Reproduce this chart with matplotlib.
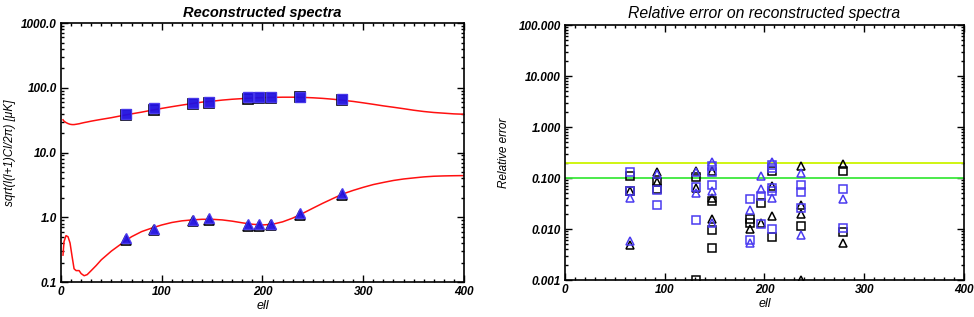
import matplotlib
matplotlib.use("Agg")
import matplotlib.pyplot as plt
from matplotlib.ticker import FixedLocator, MultipleLocator, LogLocator, NullFormatter

plt.rcParams['font.family'] = ['Liberation Sans', 'DejaVu Sans']

# multipole positions of the bins
ell = [65, 92, 131, 147, 186, 197, 208, 237, 279]

# reconstructed spectra, upper (squares) and lower (triangles) series
sq_black = [38, 46, 57, 59, 68, 69, 70, 71, 65]
sq_blue = [40, 48, 59, 61, 71, 71, 73, 73, 67]
tri_black = [0.45, 0.64, 0.87, 0.90, 0.74, 0.74, 0.75, 1.08, 2.2]
tri_blue = [0.48, 0.67, 0.92, 0.96, 0.78, 0.78, 0.80, 1.16, 2.35]

# model curves
model_ell = [2, 3, 5, 7, 9, 11, 13, 15, 18, 20, 23, 26, 30, 35, 40, 50, 60, 70, 80, 90,
             100, 110, 120, 130, 140, 150, 160, 170, 180, 190, 200, 210, 220, 230, 240,
             250, 260, 270, 280, 290, 300, 310, 320, 330, 340, 350, 360, 370, 380, 390, 400]
model_upper = [32, 30.5, 29, 28, 27.3, 27, 27, 27.3, 27.8, 28.3, 29, 29.6, 30.5, 31.5, 32.5,
               34.5, 37, 39.5, 42, 45, 48, 51, 54, 57, 60, 62, 64.5, 66.5, 68, 69.5, 70.5,
               71, 71.5, 71.5, 71, 70, 68.5, 66.5, 64, 61.5, 58.5, 55.5, 52.5, 50, 47.5, 45,
               43, 41.5, 40.5, 39.5, 39]
model_lower = [0.26, 0.42, 0.52, 0.5, 0.4, 0.25, 0.16, 0.15, 0.15, 0.135, 0.125, 0.13, 0.15,
               0.18, 0.22, 0.30, 0.39, 0.5, 0.6, 0.68, 0.76, 0.83, 0.88, 0.91, 0.93, 0.93,
               0.91, 0.87, 0.82, 0.78, 0.76, 0.78, 0.85, 0.97, 1.15, 1.38, 1.65, 1.95, 2.3,
               2.6, 2.9, 3.2, 3.45, 3.7, 3.9, 4.05, 4.2, 4.3, 4.35, 4.38, 4.4]

# relative errors (ell, value) per marker/colour
err_sq_black = [(65, 0.11), (65, 0.055), (92, 0.085), (92, 0.06), (131, 0.107), (131, 0.001),
                (147, 0.036), (147, 0.0094), (147, 0.0043), (186, 0.0157), (186, 0.013),
                (197, 0.032), (208, 0.135), (208, 0.0069), (237, 0.0113), (279, 0.135),
                (279, 0.0088)]
err_sq_blue = [(65, 0.13), (65, 0.055), (92, 0.057), (92, 0.030), (131, 0.066), (131, 0.015),
               (147, 0.17), (147, 0.13), (147, 0.074), (186, 0.038), (186, 0.0062),
               (197, 0.044), (197, 0.0125), (208, 0.18), (208, 0.16), (208, 0.065),
               (208, 0.055), (208, 0.010), (237, 0.074), (237, 0.054), (237, 0.026),
               (279, 0.062), (279, 0.0105)]
err_tri_black = [(65, 0.055), (65, 0.0048), (92, 0.13), (92, 0.085), (131, 0.135), (131, 0.065),
                 (147, 0.135), (147, 0.041), (147, 0.0157), (186, 0.010), (197, 0.0129),
                 (208, 0.069), (208, 0.018), (237, 0.17), (237, 0.030), (237, 0.020),
                 (237, 0.001), (279, 0.19), (279, 0.0052)]
err_tri_blue = [(65, 0.04), (65, 0.0058), (92, 0.12), (131, 0.13), (131, 0.051), (147, 0.21),
                (147, 0.055), (147, 0.0129), (186, 0.024), (186, 0.0052), (197, 0.11),
                (197, 0.062), (208, 0.21), (208, 0.041), (237, 0.125), (237, 0.0078),
                (279, 0.038)]

red = '#ff1010'
blue = '#2010e0'
lblue = '#4a3af0'
fs = 8.5

fig = plt.figure(figsize=(9.74, 3.17), dpi=100)


def style_axes(ax, ylabels):
    ax.set_xlim(0, 400)
    ax.set_yscale('log')
    ax.xaxis.set_major_locator(MultipleLocator(100))
    ax.xaxis.set_minor_locator(MultipleLocator(10))
    ax.yaxis.set_major_locator(FixedLocator([float(v) for v in ylabels]))
    ax.yaxis.set_minor_locator(LogLocator(base=10, subs=range(2, 10)))
    ax.yaxis.set_minor_formatter(NullFormatter())
    ax.set_yticklabels(ylabels)
    ax.tick_params(which='both', direction='in', top=True, right=True,
                   labelsize=fs, width=1, pad=3)
    ax.tick_params(which='major', length=5)
    ax.tick_params(which='minor', length=2.5)
    for lab in ax.get_xticklabels() + ax.get_yticklabels():
        lab.set_fontstyle('italic')
        lab.set_fontweight('bold')
    for s in ax.spines.values():
        s.set_linewidth(1.2)
    ax.set_xlabel('ell', fontsize=fs + 0.5, style='italic', labelpad=1)


# left panel
ax = fig.add_axes([0.0626, 0.1104, 0.4138, 0.817])
ax.plot(model_ell, model_upper, color=red, lw=1.1)
ax.plot(model_ell, model_lower, color=red, lw=1.1)
ax.plot(ell, sq_black, 's', mfc='none', mec='black', ms=6.5, mew=1.2)
ax.plot(ell, sq_blue, 's', mfc=blue, mec=lblue, ms=6.5, mew=1.0, alpha=0.95)
ax.plot(ell, tri_black, '^', mfc='none', mec='black', ms=6.5, mew=1.2)
ax.plot(ell, tri_blue, '^', mfc=blue, mec=lblue, ms=6.5, mew=1.0, alpha=0.95)
ax.set_ylim(0.1, 1000)
style_axes(ax, ['0.1', '1.0', '10.0', '100.0', '1000.0'])
ax.set_ylabel('sqrt(l(l+1)Cl/2\u03c0) [\u03bcK]', fontsize=fs, style='italic', labelpad=4)
ax.set_title('Reconstructed spectra', fontsize=10.5, style='italic', fontweight='bold', pad=4)

# right panel
ax2 = fig.add_axes([0.580, 0.1167, 0.4097, 0.8044])
ax2.axhline(0.2, color='#ccf500', lw=1.3)
ax2.axhline(0.1, color='#3de83d', lw=1.3)
for pts, mk, col in [(err_sq_black, 's', 'black'), (err_tri_black, '^', 'black'),
                     (err_sq_blue, 's', lblue), (err_tri_blue, '^', lblue)]:
    ax2.plot([p[0] for p in pts], [p[1] for p in pts], mk, mfc='none', mec=col,
             ms=6, mew=1.1, clip_on=True)
ax2.set_ylim(0.001, 100)
style_axes(ax2, ['0.001', '0.010', '0.100', '1.000', '10.000', '100.000'])
ax2.set_ylabel('Relative error', fontsize=fs, style='italic', labelpad=6)
ax2.set_title('Relative error on reconstructed spectra', fontsize=11.3, style='italic', pad=5)

fig.savefig('out.png', dpi=100)
